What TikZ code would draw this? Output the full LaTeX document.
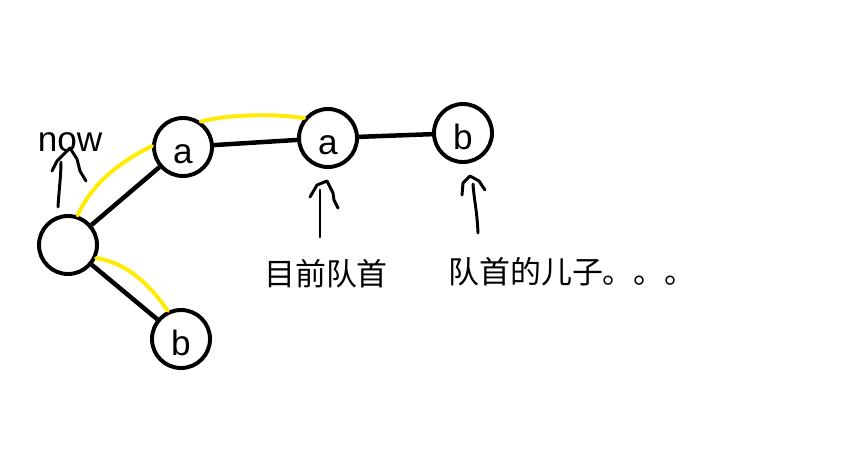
\documentclass[tikz,border=0pt]{standalone}
\usepackage{fontspec}
\setmainfont{Liberation Sans}
\newfontfamily\cjk{Noto Sans CJK SC}
\usetikzlibrary{calc}
\definecolor{hlyellow}{RGB}{255,236,0}
\tikzset{
  vert/.style = {circle, draw, line width=2.8pt, minimum size=1.45cm, inner sep=0pt,
    font=\fontsize{25}{25}\selectfont, text height=23pt, text depth=0pt},
  edge/.style = {line width=3.2pt},
  trail/.style = {hlyellow, line width=2.8pt, line cap=round},
  hand/.style = {line width=2.1pt, line cap=round, line join=round},
  note/.style = {font=\cjk\fontsize{22}{22}\selectfont, inner sep=0pt}
}

\begin{document}
\begin{tikzpicture}[x=0.025cm, y=-0.025cm]
\useasboundingbox (0,0) rectangle (852,456);
% tree
\node [vert] (root) at (68,245) {};
\node [vert] (a1) at (183,147) {a};
\node [vert] (b1) at (181,339) {b};
\node [vert] (a2) at (328,138) {a};
\node [vert] (b2) at (463,133) {b};
\draw [edge] (root) -- (a1);
\draw [edge] (root) -- (b1);
\draw [edge] (a1) -- (a2);
\draw [edge] (a2) -- (b2);
% visited path
\draw [trail] (root.72) .. controls (90,188) and (112,166) .. (a1.178);
\draw [trail] (a1.55) .. controls (225,115) and (270,113) .. (a2.140);
\draw [trail] (root.-25) .. controls (122,262) and (145,278) .. (b1.115);
% labels
\node [font=\fontsize{25}{25}\selectfont, anchor=base, inner sep=0pt] (now) at (70,151) {now};
\node [note] (head) at (326,274) {目前队首};
\node [note] (son) at (572,272) {队首的儿子。。。};
% hand drawn arrows
\coordinate (nowtail) at (58,207);
\coordinate (nowtip) at (70,148);
\draw [hand] (nowtail) .. controls (59,190) and (61,175) .. (61,162);
\draw [hand] (nowtip) ++(-18,23) -- ++(5,-10) -- (nowtip) -- ++(7,11) -- ++(3,12) -- ++(6,10);
\coordinate (headtail) at (320,237);
\coordinate (headtip) at (327,181);
\draw [hand] (headtail) -- (320,190);
\draw [hand] (headtip) ++(-17,16) -- ++(7,-12) -- (headtip) -- ++(6,12) -- ++(1,7) -- ++(4,8);
\coordinate (sontail) at (478,233);
\coordinate (sontip) at (470,176);
\draw [hand] (sontail) .. controls (477,210) and (474,200) .. (473,184);
\draw [hand] (sontip) ++(-8,19) -- ++(1,-12) -- (sontip) -- ++(9,5) -- ++(6,9);
\end{tikzpicture}
\end{document}
